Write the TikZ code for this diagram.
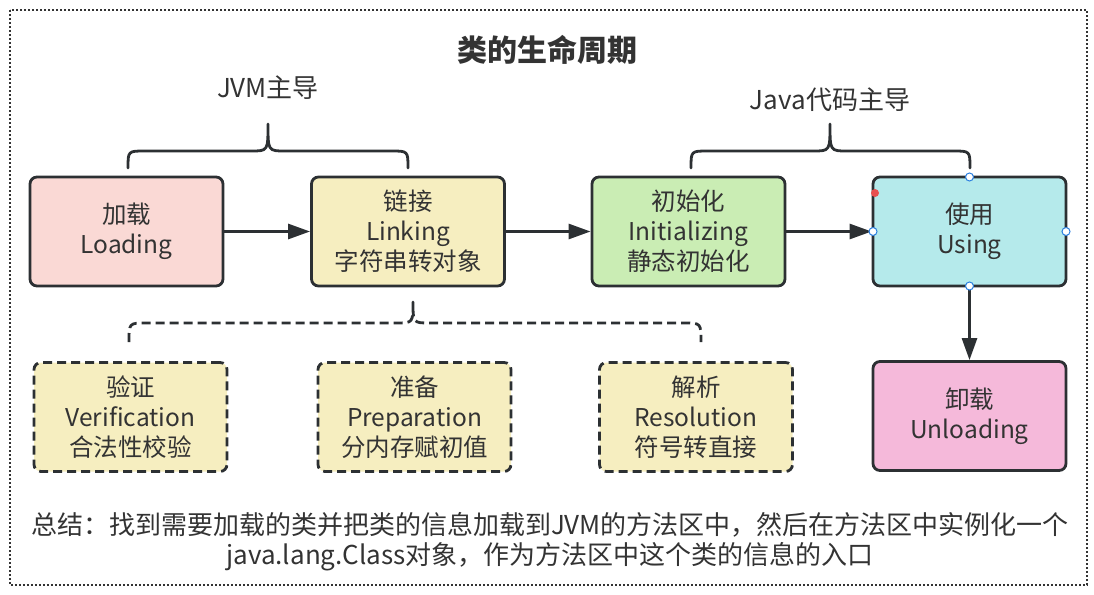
\documentclass[tikz,border=0pt]{standalone}
\usepackage{fontspec}
\setmainfont{Noto Sans CJK SC}
\usetikzlibrary{arrows.meta}
\definecolor{bord}{HTML}{2C3033}
\definecolor{txt}{HTML}{333333}
\definecolor{pinkA}{HTML}{FAD9D5}
\definecolor{yel}{HTML}{F6EEC0}
\definecolor{grn}{HTML}{CAEDB4}
\definecolor{cyn}{HTML}{B5EAEB}
\definecolor{pnk}{HTML}{F5B9DA}
\definecolor{hblue}{HTML}{2A7FE0}
\definecolor{hred}{HTML}{E85050}
\begin{document}
\begin{tikzpicture}[x=1pt,y=-1pt,
  box/.style={draw=bord, line width=2.8pt, rounded corners=7pt, minimum width=193pt, minimum height=109pt, align=center, font=\fontsize{24.5}{30}\selectfont, text=txt, inner sep=0pt},
  dbox/.style={box, fill=yel, dash pattern=on 9pt off 5pt},
  arr/.style={draw=bord, line width=2.8pt, -{Triangle[length=22pt,width=15pt]}},
  brace/.style={draw=bord, line width=2.8pt, line cap=round, line join=round},
  lbl/.style={text=txt, font=\fontsize{26}{30}\selectfont, inner sep=0pt},
  handle/.style={draw=hblue, fill=white, line width=1pt}
]
\useasboundingbox (0,0) rectangle (1094,594);
\draw[txt, line width=1.6pt, dash pattern=on 2pt off 2pt] (10,10) rectangle (1087,585);

\node[text=txt, font=\fontsize{30}{36}\selectfont\bfseries, inner sep=0pt] (title) at (547,50) {类的生命周期};
\node[lbl] (jvm) at (268,88) {JVM主导};
\node[lbl] (java) at (830,100) {Java代码主导};

\node[box, fill=pinkA] (load) at (126.5,231.5) {加载\\Loading};
\node[box, fill=yel] (link) at (408,231.5) {链接\\Linking\\字符串转对象};
\node[box, fill=grn] (init) at (688.5,231.5) {初始化\\Initializing\\静态初始化};
\node[box, fill=cyn] (use) at (969.5,231.5) {使用\\Using};
\node[box, fill=pnk] (unload) at (969.5,416) {卸载\\Unloading};

\node[dbox] (veri) at (130.5,417) {验证\\Verification\\合法性校验};
\node[dbox] (prep) at (414.5,417) {准备\\Preparation\\分内存赋初值};
\node[dbox] (reso) at (696,417) {解析\\Resolution\\符号转直接};

\draw[arr] (load) -- (link);
\draw[arr] (link) -- (init);
\draw[arr] (init) -- (use);
\draw[arr] (use) -- (unload);

% braces
\draw[brace] (128,168) .. controls (128,151) .. (145,151) -- (251,151) .. controls (268,151) .. (268,124) .. controls (268,151) .. (285,151) -- (391,151) .. controls (408,151) .. (408,168);
\draw[brace] (691,168) .. controls (691,151) .. (708,151) -- (813,151) .. controls (830,151) .. (830,124) .. controls (830,151) .. (847,151) -- (953,151) .. controls (970,151) .. (970,168);
\draw[brace, line cap=butt, dash pattern=on 9pt off 5pt] (129,342) .. controls (129,323) .. (146,323) -- (396,323) .. controls (413,323) .. (413,302) .. controls (413,323) .. (430,323) -- (684,323) .. controls (701,323) .. (701,342);

\node[text=txt, font=\fontsize{26}{30}\selectfont, align=center, inner sep=0pt] (sum) at (550,542) {总结：找到需要加载的类并把类的信息加载到JVM的方法区中，然后在方法区中实例化一个\\java.lang.Class对象，作为方法区中这个类的信息的入口};

% selection handles
\fill[hred] (875,193) circle (4pt);
\draw[handle] (969.5,177) circle (4pt);
\draw[handle] (873,231.5) circle (4pt);
\draw[handle] (1066,231.5) circle (4pt);
\draw[handle] (969.5,286) circle (4pt);
\end{tikzpicture}
\end{document}
